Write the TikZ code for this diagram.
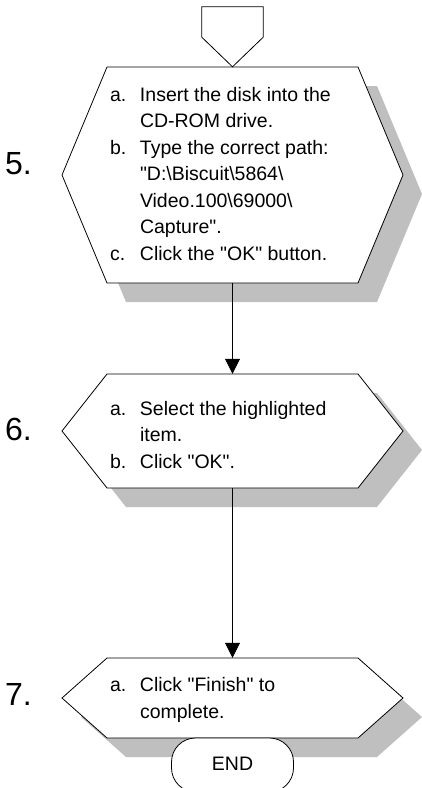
\documentclass[tikz,border=0pt]{standalone}
\usepackage{fontspec}
\setmainfont{Liberation Sans}
\usetikzlibrary{arrows.meta}

\newcommand{\pasoitem}[1]{\makebox[30pt][l]{#1}}
\newcommand{\pasosig}{\hspace*{30pt}}
\newcommand{\qt}{\textquotedbl}

\begin{document}
\begin{tikzpicture}[x=1pt, y=-1pt,
  hexa/.style n args={3}{insert path={(#1-125.5,#2-#3) -- (#1+125.5,#2-#3) -- (#1+170.5,#2)
    -- (#1+125.5,#2+#3) -- (#1-125.5,#2+#3) -- (#1-170.5,#2) -- cycle}},
  paso/.style={minimum width=251pt, inner sep=0pt},
  pasotexto/.style={anchor=west, inner sep=0pt, align=left, font=\fontsize{19.5}{26.5}\selectfont},
  numero/.style={anchor=base west, inner sep=0pt, font=\fontsize{32}{32}\selectfont},
  borde/.style={draw=black, line width=0.8pt, fill=white},
  sombra/.style={fill=black!25, shift={(19,19)}},
  flecha/.style={line width=0.8pt, -{Triangle[length=15pt, width=15pt]}},
  fin/.style={draw=black, line width=0.8pt, fill=white, rounded corners=24pt,
    minimum width=122pt, minimum height=54pt, font=\fontsize{19.5}{19.5}\selectfont}]
\useasboundingbox (0,0) rectangle (422,788);

% Paso 5
\node[paso, minimum height=216pt] (s5) at (232.5,175) {};
\fill[sombra] [hexa={232.5}{175}{108}];
\draw[borde] [hexa={232.5}{175}{108}];
\node[pasotexto] (s5t) at ([xshift=3pt, yshift=1pt]s5.west) {%
  \pasoitem{a.}Insert the disk into the\\
  \pasosig CD-ROM drive.\\
  \pasoitem{b.}Type the correct path:\\
  \pasosig \qt D:\textbackslash Biscuit\textbackslash 5864\textbackslash\\
  \pasosig Video.100\textbackslash 69000\textbackslash\\
  \pasosig Capture\qt.\\
  \pasoitem{c.}Click the \qt OK\qt\ button.};
\node[numero] (n5) at (5,174) {5.};

% Conector de entrada
\node[minimum width=61pt, minimum height=30pt, inner sep=0pt] (entrada) at (232.5,22) {};
\draw[borde] (entrada.south west) -- (entrada.north west) -- (entrada.north east)
  -- (entrada.south east) -- (s5.north) -- cycle;

% Paso 6
\node[paso, minimum height=114pt] (s6) at (232.5,431) {};
\fill[sombra] [hexa={232.5}{431}{57}];
\draw[borde] [hexa={232.5}{431}{57}];
\node[pasotexto] (s6t) at ([xshift=3pt, yshift=-4pt]s6.west) {%
  \pasoitem{a.}Select the highlighted\\
  \pasosig item.\\
  \pasoitem{b.}Click \qt OK\qt.};
\node[numero] (n6) at (5,440) {6.};

% Paso 7
\node[paso, minimum height=80pt] (s7) at (232.5,698) {};
\fill[sombra] [hexa={232.5}{698}{40}];
\draw[borde] [hexa={232.5}{698}{40}];
\node[pasotexto] (s7t) at ([xshift=3pt, yshift=-2pt]s7.west) {%
  \pasoitem{a.}Click \qt Finish\qt\ to\\
  \pasosig complete.};
\node[numero] (n7) at (5,705) {7.};

% Fin
\node[fin] (fin) at (232.5,765) {\raisebox{3pt}{END}};

% Flechas
\draw[flecha] (s5.south) -- (s6.north);
\draw[flecha] (s6.south) -- (s7.north);

\end{tikzpicture}
\end{document}
